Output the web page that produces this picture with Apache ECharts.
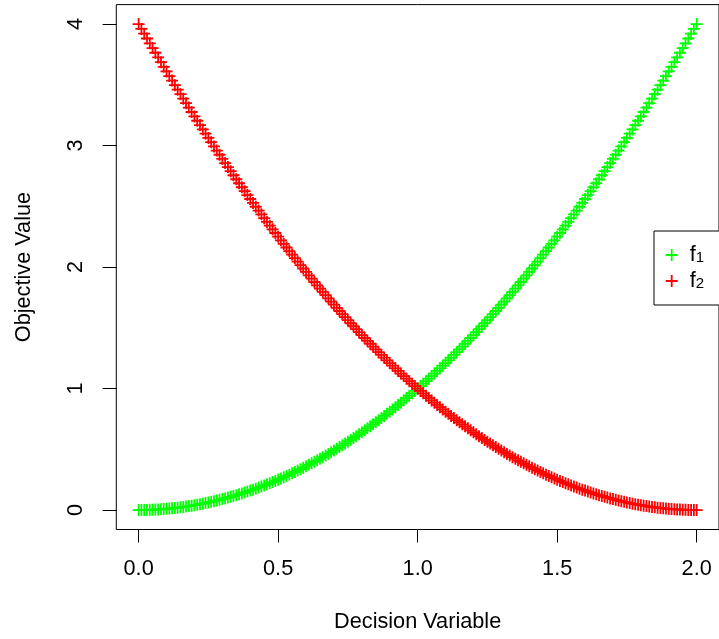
<!DOCTYPE html>
<html>
<head>
<meta charset="utf-8">
<script src="https://cdn.jsdelivr.net/npm/echarts@6/dist/echarts.min.js"></script>
<style>
html,body{margin:0;padding:0;background:#fff;}
#chart{width:719px;height:639px;}
</style>
</head>
<body>
<div id="chart"></div>
<script>
// Decision variable values (x)
var decisionVar = [
0,0.01,0.02,0.03,0.04,0.05,0.06,0.07,0.08,0.09,
0.1,0.11,0.12,0.13,0.14,0.15,0.16,0.17,0.18,0.19,
0.2,0.21,0.22,0.23,0.24,0.25,0.26,0.27,0.28,0.29,
0.3,0.31,0.32,0.33,0.34,0.35,0.36,0.37,0.38,0.39,
0.4,0.41,0.42,0.43,0.44,0.45,0.46,0.47,0.48,0.49,
0.5,0.51,0.52,0.53,0.54,0.55,0.56,0.57,0.58,0.59,
0.6,0.61,0.62,0.63,0.64,0.65,0.66,0.67,0.68,0.69,
0.7,0.71,0.72,0.73,0.74,0.75,0.76,0.77,0.78,0.79,
0.8,0.81,0.82,0.83,0.84,0.85,0.86,0.87,0.88,0.89,
0.9,0.91,0.92,0.93,0.94,0.95,0.96,0.97,0.98,0.99,
1,1.01,1.02,1.03,1.04,1.05,1.06,1.07,1.08,1.09,
1.1,1.11,1.12,1.13,1.14,1.15,1.16,1.17,1.18,1.19,
1.2,1.21,1.22,1.23,1.24,1.25,1.26,1.27,1.28,1.29,
1.3,1.31,1.32,1.33,1.34,1.35,1.36,1.37,1.38,1.39,
1.4,1.41,1.42,1.43,1.44,1.45,1.46,1.47,1.48,1.49,
1.5,1.51,1.52,1.53,1.54,1.55,1.56,1.57,1.58,1.59,
1.6,1.61,1.62,1.63,1.64,1.65,1.66,1.67,1.68,1.69,
1.7,1.71,1.72,1.73,1.74,1.75,1.76,1.77,1.78,1.79,
1.8,1.81,1.82,1.83,1.84,1.85,1.86,1.87,1.88,1.89,
1.9,1.91,1.92,1.93,1.94,1.95,1.96,1.97,1.98,1.99,
2
];
// Objective f1
var f1Values = [
0,0.0001,0.0004,0.0009,0.0016,0.0025,0.0036,0.0049,0.0064,0.0081,
0.01,0.0121,0.0144,0.0169,0.0196,0.0225,0.0256,0.0289,0.0324,0.0361,
0.04,0.0441,0.0484,0.0529,0.0576,0.0625,0.0676,0.0729,0.0784,0.0841,
0.09,0.0961,0.1024,0.1089,0.1156,0.1225,0.1296,0.1369,0.1444,0.1521,
0.16,0.1681,0.1764,0.1849,0.1936,0.2025,0.2116,0.2209,0.2304,0.2401,
0.25,0.2601,0.2704,0.2809,0.2916,0.3025,0.3136,0.3249,0.3364,0.3481,
0.36,0.3721,0.3844,0.3969,0.4096,0.4225,0.4356,0.4489,0.4624,0.4761,
0.49,0.5041,0.5184,0.5329,0.5476,0.5625,0.5776,0.5929,0.6084,0.6241,
0.64,0.6561,0.6724,0.6889,0.7056,0.7225,0.7396,0.7569,0.7744,0.7921,
0.81,0.8281,0.8464,0.8649,0.8836,0.9025,0.9216,0.9409,0.9604,0.9801,
1,1.0201,1.0404,1.0609,1.0816,1.1025,1.1236,1.1449,1.1664,1.1881,
1.21,1.2321,1.2544,1.2769,1.2996,1.3225,1.3456,1.3689,1.3924,1.4161,
1.44,1.4641,1.4884,1.5129,1.5376,1.5625,1.5876,1.6129,1.6384,1.6641,
1.69,1.7161,1.7424,1.7689,1.7956,1.8225,1.8496,1.8769,1.9044,1.9321,
1.96,1.9881,2.0164,2.0449,2.0736,2.1025,2.1316,2.1609,2.1904,2.2201,
2.25,2.2801,2.3104,2.3409,2.3716,2.4025,2.4336,2.4649,2.4964,2.5281,
2.56,2.5921,2.6244,2.6569,2.6896,2.7225,2.7556,2.7889,2.8224,2.8561,
2.89,2.9241,2.9584,2.9929,3.0276,3.0625,3.0976,3.1329,3.1684,3.2041,
3.24,3.2761,3.3124,3.3489,3.3856,3.4225,3.4596,3.4969,3.5344,3.5721,
3.61,3.6481,3.6864,3.7249,3.7636,3.8025,3.8416,3.8809,3.9204,3.9601,
4
];
// Objective f2
var f2Values = [
4,3.9601,3.9204,3.8809,3.8416,3.8025,3.7636,3.7249,3.6864,3.6481,
3.61,3.5721,3.5344,3.4969,3.4596,3.4225,3.3856,3.3489,3.3124,3.2761,
3.24,3.2041,3.1684,3.1329,3.0976,3.0625,3.0276,2.9929,2.9584,2.9241,
2.89,2.8561,2.8224,2.7889,2.7556,2.7225,2.6896,2.6569,2.6244,2.5921,
2.56,2.5281,2.4964,2.4649,2.4336,2.4025,2.3716,2.3409,2.3104,2.2801,
2.25,2.2201,2.1904,2.1609,2.1316,2.1025,2.0736,2.0449,2.0164,1.9881,
1.96,1.9321,1.9044,1.8769,1.8496,1.8225,1.7956,1.7689,1.7424,1.7161,
1.69,1.6641,1.6384,1.6129,1.5876,1.5625,1.5376,1.5129,1.4884,1.4641,
1.44,1.4161,1.3924,1.3689,1.3456,1.3225,1.2996,1.2769,1.2544,1.2321,
1.21,1.1881,1.1664,1.1449,1.1236,1.1025,1.0816,1.0609,1.0404,1.0201,
1,0.9801,0.9604,0.9409,0.9216,0.9025,0.8836,0.8649,0.8464,0.8281,
0.81,0.7921,0.7744,0.7569,0.7396,0.7225,0.7056,0.6889,0.6724,0.6561,
0.64,0.6241,0.6084,0.5929,0.5776,0.5625,0.5476,0.5329,0.5184,0.5041,
0.49,0.4761,0.4624,0.4489,0.4356,0.4225,0.4096,0.3969,0.3844,0.3721,
0.36,0.3481,0.3364,0.3249,0.3136,0.3025,0.2916,0.2809,0.2704,0.2601,
0.25,0.2401,0.2304,0.2209,0.2116,0.2025,0.1936,0.1849,0.1764,0.1681,
0.16,0.1521,0.1444,0.1369,0.1296,0.1225,0.1156,0.1089,0.1024,0.0961,
0.09,0.0841,0.0784,0.0729,0.0676,0.0625,0.0576,0.0529,0.0484,0.0441,
0.04,0.0361,0.0324,0.0289,0.0256,0.0225,0.0196,0.0169,0.0144,0.0121,
0.01,0.0081,0.0064,0.0049,0.0036,0.0025,0.0016,0.0009,0.0004,0.0001,
0
];
var xTicks = [0, 0.5, 1, 1.5, 2];
var yTicks = [0, 1, 2, 3, 4];
var seriesNames = ['f1', 'f2'];
var seriesColors = ['#00FF00', '#FF0000'];

var FONT = '"Liberation Sans", Arial, Helvetica, sans-serif';
var FS = 21.7;
var plusPath = 'path://M5.1,0H6.9V5.1H12V6.9H6.9V12H5.1V6.9H0V5.1H5.1Z';

function pairs(xs, ys) { return xs.map(function (v, i) { return [v, ys[i]]; }); }

var chart = echarts.init(document.getElementById('chart'), null, {renderer: 'canvas'});
chart.setOption({
  animation: false,
  backgroundColor: '#ffffff',
  textStyle: {fontFamily: FONT},
  grid: {
    left: 116.3, top: 4.6, width: 607, height: 524.9,
    show: true, borderColor: '#000', borderWidth: 1, backgroundColor: 'transparent'
  },
  legend: {
    orient: 'vertical',
    left: 654, top: 231,
    data: seriesNames,
    icon: plusPath,
    itemWidth: 12, itemHeight: 12,
    itemGap: 4,
    padding: [13, 40, 13, 11.7],
    borderColor: '#000', borderWidth: 1,
    backgroundColor: '#fff',
    formatter: function (n) { return '{f|f}{s|' + n.slice(1) + '}'; },
    textStyle: {
      padding: [0, 0, 0, 7],
      rich: {
        f: {fontFamily: FONT, fontSize: FS, color: '#000', lineHeight: 21},
        s: {fontFamily: FONT, fontSize: 15, color: '#000', lineHeight: 15, verticalAlign: 'bottom', padding: [4, 0, 0, 0]}
      }
    }
  },
  xAxis: {
    type: 'value', min: -0.08, max: 2.08,
    name: 'Decision Variable', nameLocation: 'middle', nameGap: 82,
    nameTextStyle: {fontFamily: FONT, fontSize: FS, color: '#000'},
    axisLine: {show: false, onZero: false},
    splitLine: {show: false},
    axisTick: {show: true, customValues: xTicks, length: 13, inside: false, lineStyle: {color: '#000', width: 1}},
    axisLabel: {customValues: xTicks, margin: 29, fontFamily: FONT, fontSize: FS, color: '#000',
      formatter: function (v) { return v.toFixed(1); }}
  },
  yAxis: {
    type: 'value', min: -0.16, max: 4.16,
    name: 'Objective Value', nameLocation: 'middle', nameGap: 81,
    nameTextStyle: {fontFamily: FONT, fontSize: FS, color: '#000'},
    axisLine: {show: false, onZero: false},
    splitLine: {show: false},
    axisTick: {show: true, customValues: yTicks, length: 13.7, inside: false, lineStyle: {color: '#000', width: 1}},
    axisLabel: {customValues: yTicks, margin: 29, rotate: 90, fontFamily: FONT, fontSize: FS, color: '#000'}
  },
  series: [
    {
      name: seriesNames[0], type: 'scatter', symbol: plusPath, symbolSize: 12,
      itemStyle: {color: seriesColors[0], opacity: 1},
      data: pairs(decisionVar, f1Values), silent: true
    },
    {
      name: seriesNames[1], type: 'scatter', symbol: plusPath, symbolSize: 12,
      itemStyle: {color: seriesColors[1], opacity: 1},
      data: pairs(decisionVar, f2Values), silent: true
    }
  ]
});
</script>
</body>
</html>
